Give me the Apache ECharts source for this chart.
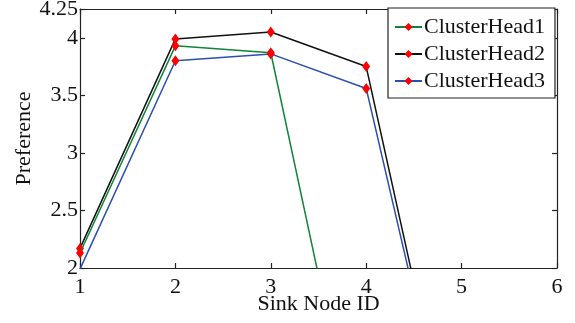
<!DOCTYPE html>
<html>
<head>
<meta charset="utf-8">
<script src="https://cdn.jsdelivr.net/npm/echarts@6/dist/echarts.min.js"></script>
<style>html,body{margin:0;padding:0;background:#fff}#c{width:575px;height:323px}</style>
</head>
<body>
<div id="c"></div>
<script>
var nodeIds = [1, 2, 3, 4, 5, 6];
var clusterHead1 = [2.13, 3.93, 3.87, 0, 0, 0];
var clusterHead2 = [2.17, 3.99, 4.05, 3.75, 0, 0];
var clusterHead3 = [1.99, 3.80, 3.86, 3.56, 0, 0];
var seriesNames = ['ClusterHead1', 'ClusterHead2', 'ClusterHead3'];
var seriesColors = ['#12843a', '#111111', '#2a4fb0'];
var yTicks = [2, 2.5, 3, 3.5, 4, 4.25];
var xTicks = [1, 2, 3, 4, 5, 6];

var font = 'Liberation Serif';
var allData = [clusterHead1, clusterHead2, clusterHead3];
var series = allData.map(function (vals, i) {
  return {
    name: seriesNames[i],
    type: 'line',
    data: nodeIds.map(function (x, j) { return [x, vals[j]]; }),
    clip: true,
    symbol: 'diamond',
    symbolSize: [8, 11],
    showSymbol: true,
    color: seriesColors[i],
    lineStyle: { color: seriesColors[i], width: 1.5 },
    itemStyle: { color: '#ff0000', borderWidth: 0 },
    animation: false,
    z: 3 - i
  };
});
var axisLineStyle = { color: '#222', width: 1.2 };
var chart = echarts.init(document.getElementById('c'), null, { renderer: 'canvas' });
chart.setOption({
  animation: false,
  backgroundColor: '#fff',
  grid: { left: 80, right: 18, top: 9, bottom: 55, containLabel: false, outerBoundsMode: 'none' },
  legend: {
    data: seriesNames,
    orient: 'vertical',
    left: 388, top: 8,
    padding: [8, 10, 6, 6],
    itemGap: 5,
    itemWidth: 27,
    itemHeight: 10,
    borderColor: '#222',
    borderWidth: 1.2,
    backgroundColor: '#fff',
    textStyle: { fontFamily: font, fontSize: 22, color: '#111', padding: [0, 0, 0, -3] }
  },
  xAxis: [{
    type: 'value', min: 1, max: 6, interval: 1,
    name: 'Sink Node ID', nameLocation: 'middle', nameGap: 25, nameMoveOverlap: false,
    nameTextStyle: { fontFamily: font, fontSize: 22, color: '#111' },
    axisLine: { show: true, lineStyle: axisLineStyle },
    axisTick: { show: true, inside: true, length: 5, lineStyle: axisLineStyle, customValues: xTicks },
    axisLabel: { fontFamily: font, fontSize: 22, color: '#111', margin: 8, customValues: xTicks },
    splitLine: { show: false }
  }, {
    type: 'value', min: 1, max: 6, interval: 1, position: 'top',
    axisLine: { show: true, lineStyle: axisLineStyle },
    axisTick: { show: true, inside: true, length: 5, lineStyle: axisLineStyle },
    axisLabel: { show: false },
    splitLine: { show: false }
  }],
  yAxis: [{
    type: 'value', min: 2, max: 4.25, interval: 0.25,
    name: 'Preference', nameLocation: 'middle', nameGap: 45, nameMoveOverlap: false,
    nameTextStyle: { fontFamily: font, fontSize: 22, color: '#111' },
    axisLine: { show: true, lineStyle: axisLineStyle },
    axisTick: { show: true, inside: true, length: 5, lineStyle: axisLineStyle, customValues: yTicks },
    axisLabel: { fontFamily: font, fontSize: 22, color: '#111', margin: 2, customValues: yTicks },
    splitLine: { show: false }
  }, {
    type: 'value', min: 2, max: 4.25, interval: 0.25, position: 'right',
    axisLine: { show: true, lineStyle: axisLineStyle },
    axisTick: { show: true, inside: true, length: 5, lineStyle: axisLineStyle, customValues: yTicks },
    axisLabel: { show: false },
    splitLine: { show: false }
  }],
  series: series
});
</script>
</body>
</html>
